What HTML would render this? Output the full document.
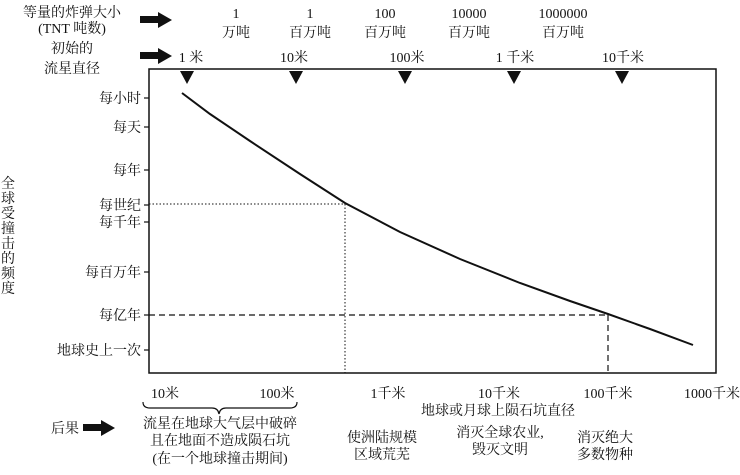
<!DOCTYPE html>
<html><head><meta charset="utf-8"><style>
body{margin:0;background:#fff;}
svg text{font-family:"Liberation Serif","Noto Serif CJK SC",serif;fill:#111;font-size:14px;}
</style></head><body>
<svg width="740" height="470" viewBox="0 0 740 470" xmlns="http://www.w3.org/2000/svg">
<g text-anchor="middle">
<text x="72" y="17">等量的炸弹大小</text>
<text x="72" y="33">(TNT 吨数)</text>
<text x="72" y="53">初始的</text>
<text x="72" y="73">流星直径</text>
<text x="236" y="18">1</text><text x="236" y="37">万吨</text>
<text x="310" y="18">1</text><text x="310" y="37">百万吨</text>
<text x="385" y="18">100</text><text x="385" y="37">百万吨</text>
<text x="469" y="18">10000</text><text x="469" y="37">百万吨</text>
<text x="563" y="18">1000000</text><text x="563" y="37">百万吨</text>
<text x="191" y="62">1 米</text>
<text x="294" y="62">10米</text>
<text x="407" y="62">100米</text>
<text x="515" y="62">1 千米</text>
<text x="623" y="62">10千米</text>
</g>
<g fill="#111">
<rect x="140" y="16" width="20" height="7"/><polygon points="158,12 172,20 158,28"/>
<rect x="140" y="52" width="20" height="7"/><polygon points="158,48 172,56 158,64"/>
<rect x="83" y="424" width="20" height="7"/><polygon points="101,420 115,428 101,436"/>
<polygon points="180,71 194,71 187,84"/><polygon points="289,71 303,71 296,84"/>
<polygon points="398,71 412,71 405,84"/><polygon points="507,71 521,71 514,84"/>
<polygon points="615,71 629,71 622,84"/>
</g>
<rect x="149" y="69" width="567" height="304" fill="none" stroke="#111" stroke-width="1.5"/>
<g stroke="#111" stroke-width="1.2">
<line x1="144" y1="98" x2="149" y2="98"/><line x1="144" y1="127" x2="149" y2="127"/>
<line x1="144" y1="170" x2="149" y2="170"/><line x1="144" y1="205" x2="149" y2="205"/>
<line x1="144" y1="222" x2="149" y2="222"/><line x1="144" y1="272" x2="149" y2="272"/>
<line x1="144" y1="315" x2="149" y2="315"/><line x1="144" y1="350" x2="149" y2="350"/>
</g>
<g text-anchor="end">
<text x="141" y="103">每小时</text><text x="141" y="132">每天</text>
<text x="141" y="175">每年</text><text x="141" y="210">每世纪</text>
<text x="141" y="227">每千年</text><text x="141" y="277">每百万年</text>
<text x="141" y="320">每亿年</text><text x="141" y="355">地球史上一次</text>
</g>
<g text-anchor="middle">
<text x="8" y="188">全</text><text x="8" y="203">球</text><text x="8" y="218">受</text>
<text x="8" y="233">撞</text><text x="8" y="248">击</text><text x="8" y="263">的</text>
<text x="8" y="278">频</text><text x="8" y="293">度</text>
</g>
<polyline fill="none" stroke="#111" stroke-width="2" points="182,93 210,114 250,141 300,174 345,203 400,232 460,259 520,283 570,301 608,314 650,329 693,345"/>
<g stroke="#111" stroke-width="1" stroke-dasharray="1.5,2">
<line x1="149" y1="204" x2="345" y2="204"/><line x1="345" y1="204" x2="345" y2="373"/>
</g>
<g stroke="#111" stroke-width="1.2" stroke-dasharray="6,4">
<line x1="149" y1="315" x2="608" y2="315"/><line x1="608" y1="315" x2="608" y2="373"/>
</g>
<g text-anchor="middle">
<text x="165" y="398">10米</text><text x="277" y="398">100米</text>
<text x="388" y="398">1千米</text><text x="499" y="398">10千米</text>
<text x="608" y="398">100千米</text><text x="712" y="398">1000千米</text>
<text x="498" y="415">地球或月球上陨石坑直径</text>
<text x="220" y="428">流星在地球大气层中破碎</text>
<text x="220" y="445">且在地面不造成陨石坑</text>
<text x="220" y="463">(在一个地球撞击期间)</text>
<text x="382" y="442">使洲陆规模</text><text x="382" y="459">区域荒芜</text>
<text x="500" y="437">消灭全球农业,</text><text x="500" y="454">毁灭文明</text>
<text x="605" y="442">消灭绝大</text><text x="605" y="459">多数物种</text>
<text x="65" y="433">后果</text>
</g>
<path d="M143,402 Q143,408 150,408 L212,408 Q218,408 219,414 Q220,408 226,408 L290,408 Q297,408 297,402" fill="none" stroke="#111" stroke-width="1.2"/>
</svg>
</body></html>
